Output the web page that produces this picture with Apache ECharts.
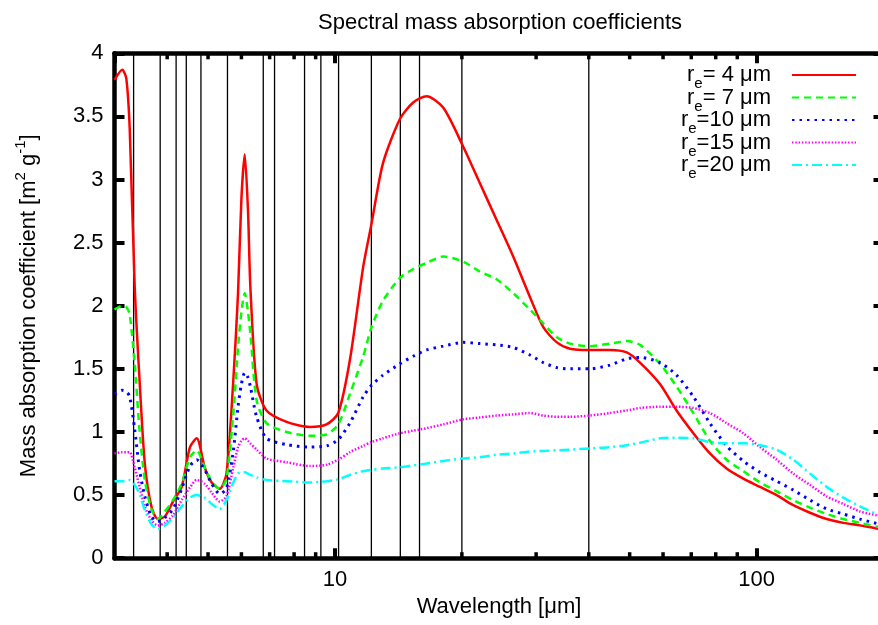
<!DOCTYPE html>
<html><head><meta charset="utf-8">
<script src="https://cdn.jsdelivr.net/npm/echarts@6/dist/echarts.min.js"></script>
<style>html,body{margin:0;padding:0;background:#fff}#c{width:878px;height:625px}</style>
</head><body><div id="c"></div>
<script>
// Wavelength grid [µm]
const wavelength = [3.0, 3.13, 3.2, 3.26, 3.35, 3.44, 3.54, 3.67, 3.8, 3.95, 4.13, 4.33, 4.53, 4.7, 4.91, 5.1, 5.33, 5.53, 5.74, 5.89, 6.0, 6.11, 6.22, 6.3, 6.52, 6.88, 7.68, 8.72, 9.55, 10.18, 10.85, 11.67, 12.21, 13.0, 14.26, 15.33, 16.5, 18.06, 20.15, 22.07, 24.18, 26.47, 29.0, 31.2, 33.6, 36.1, 40.2, 44.9, 49.2, 52.9, 59.0, 64.6, 70.8, 77.5, 84.9, 93.0, 101.9, 111.6, 122.2, 133.9, 146.6, 160.6, 175.9, 192.7, 200];
// Mass absorption coefficients [m2 g-1]
const re4 = [3.79, 3.87, 3.80, 3.40, 2.15, 1.41, 0.75, 0.41, 0.31, 0.33, 0.45, 0.565, 0.88, 0.95, 0.72, 0.60, 0.55, 0.67, 1.41, 2.1, 2.85, 3.2, 2.75, 2.15, 1.38, 1.17, 1.08, 1.04, 1.06, 1.15, 1.57, 2.31, 2.65, 3.13, 3.48, 3.61, 3.66, 3.57, 3.26, 2.97, 2.68, 2.39, 2.07, 1.83, 1.71, 1.66, 1.65, 1.65, 1.63, 1.55, 1.38, 1.17, 0.99, 0.83, 0.71, 0.63, 0.565, 0.50, 0.42, 0.36, 0.31, 0.28, 0.26, 0.235, 0.23];
const re7 = [1.97, 2.0, 1.99, 1.93, 1.54, 1.01, 0.62, 0.39, 0.31, 0.37, 0.46, 0.59, 0.80, 0.855, 0.72, 0.61, 0.55, 0.63, 1.15, 1.67, 1.95, 2.10, 1.95, 1.78, 1.25, 1.07, 1.0, 0.97, 0.98, 1.06, 1.30, 1.60, 1.83, 2.04, 2.22, 2.29, 2.34, 2.39, 2.35, 2.27, 2.21, 2.10, 1.97, 1.86, 1.75, 1.70, 1.68, 1.70, 1.72, 1.69, 1.54, 1.36, 1.15, 0.93, 0.78, 0.69, 0.60, 0.53, 0.46, 0.40, 0.35, 0.31, 0.28, 0.25, 0.245];
const re10 = [1.30, 1.33, 1.32, 1.28, 1.02, 0.70, 0.49, 0.33, 0.29, 0.32, 0.39, 0.55, 0.73, 0.78, 0.70, 0.59, 0.51, 0.55, 0.85, 1.2, 1.38, 1.47, 1.43, 1.36, 1.12, 0.95, 0.90, 0.88, 0.89, 0.94, 1.07, 1.28, 1.37, 1.45, 1.54, 1.60, 1.65, 1.68, 1.71, 1.70, 1.69, 1.67, 1.61, 1.55, 1.51, 1.50, 1.50, 1.53, 1.58, 1.59, 1.55, 1.45, 1.28, 1.07, 0.89, 0.77, 0.68, 0.61, 0.54, 0.46, 0.39, 0.35, 0.31, 0.275, 0.265];
const re15 = [0.83, 0.84, 0.84, 0.84, 0.72, 0.565, 0.41, 0.30, 0.26, 0.28, 0.34, 0.46, 0.56, 0.62, 0.59, 0.52, 0.45, 0.49, 0.72, 0.88, 0.93, 0.95, 0.93, 0.91, 0.86, 0.79, 0.76, 0.73, 0.74, 0.78, 0.84, 0.89, 0.92, 0.95, 0.99, 1.01, 1.03, 1.06, 1.10, 1.115, 1.13, 1.14, 1.15, 1.13, 1.12, 1.12, 1.13, 1.15, 1.17, 1.19, 1.20, 1.20, 1.19, 1.15, 1.07, 0.99, 0.88, 0.78, 0.67, 0.58, 0.49, 0.43, 0.37, 0.34, 0.33];
const re20 = [0.61, 0.61, 0.615, 0.62, 0.58, 0.51, 0.38, 0.27, 0.23, 0.26, 0.32, 0.41, 0.48, 0.50, 0.48, 0.43, 0.39, 0.46, 0.60, 0.67, 0.68, 0.68, 0.67, 0.66, 0.64, 0.62, 0.61, 0.60, 0.61, 0.625, 0.66, 0.69, 0.70, 0.71, 0.72, 0.735, 0.75, 0.77, 0.79, 0.80, 0.82, 0.83, 0.845, 0.85, 0.855, 0.86, 0.87, 0.88, 0.895, 0.915, 0.95, 0.955, 0.95, 0.92, 0.91, 0.91, 0.895, 0.86, 0.78, 0.67, 0.565, 0.48, 0.41, 0.35, 0.33];
// Band boundaries (vertical lines) [µm]
const bandEdges = [3.33, 3.85, 4.20, 4.44, 4.81, 5.56, 6.76, 7.19, 8.47, 9.26, 10.2, 12.2, 14.29, 15.87, 20, 40];
// Minor tick positions on the log axis
const minorTicks = [4, 5, 6, 7, 8, 9, 20, 30, 40, 50, 60, 70, 80, 90];
const radiusLabels = [' 4', ' 7', '10', '15', '20'];
const seriesValues = [re4, re7, re10, re15, re20];

const FONT = '"Liberation Sans", Arial, Helvetica, sans-serif';
const colors = ['#ff0000', '#00ff00', '#0000ff', '#ff00ff', '#00ffff'];
const dashes = ['solid', [7, 5], [2.5, 5], [1.5, 1.8], [10, 4, 2, 4]];
const widths = [2.5, 2.5, 3, 2.5, 2.5];
const names = radiusLabels.map(r => 're=' + r + ' μm');

const chart = echarts.init(document.getElementById('c'), null, {renderer: 'canvas'});

const lineSeries = seriesValues.map((vals, k) => ({
  type: 'line', name: names[k],
  data: wavelength.map((w, i) => [w, vals[i]]),
  showSymbol: false, symbol: 'none', smooth: 0.25,
  xAxisIndex: 0, yAxisIndex: 0, z: 3 + k * 0.01,
  color: colors[k],
  lineStyle: {color: colors[k], width: widths[k], type: dashes[k]},
  emphasis: {disabled: true}
}));

const bandSeries = {
  type: 'custom', xAxisIndex: 0, yAxisIndex: 0, silent: true, z: 1,
  data: bandEdges.map(v => [v, 0]),
  encode: {x: 0, y: 1},
  renderItem: (params, api) => {
    const b = api.coord([api.value(0), 0]);
    const t = api.coord([api.value(0), 4]);
    return {type: 'line', shape: {x1: b[0], y1: b[1], x2: t[0], y2: t[1]}, style: {stroke: '#000', lineWidth: 1.3}};
  }
};

const minorSeries = {
  type: 'custom', xAxisIndex: 0, yAxisIndex: 0, silent: true, z: 6, clip: false,
  data: minorTicks.map(v => [v, 0]),
  encode: {x: 0, y: 1},
  renderItem: (params, api) => {
    const b = api.coord([api.value(0), 0]);
    const t = api.coord([api.value(0), 4]);
    return {type: 'group', children: [
      {type: 'line', shape: {x1: b[0], y1: b[1], x2: b[0], y2: b[1] - 6}, style: {stroke: '#000', lineWidth: 3.5}},
      {type: 'line', shape: {x1: t[0], y1: t[1], x2: t[0], y2: t[1] + 6}, style: {stroke: '#000', lineWidth: 3.5}}
    ]};
  }
};

const axisLine = {show: true, onZero: false, lineStyle: {color: '#000', width: 4.5}};
const axisTick = {show: true, inside: true, length: 10, lineStyle: {color: '#000', width: 4}};
const labelStyle = {color: '#000', fontSize: 22, fontFamily: FONT};

const option = {
  animation: false,
  backgroundColor: '#ffffff',
  title: {
    text: 'Spectral mass absorption coefficients', left: 313, top: 7,
    textStyle: {color: '#000', fontSize: 22, fontWeight: 'normal', fontFamily: FONT}
  },
  grid: {left: 114.5, width: 769, top: 53.3, bottom: 66.8, containLabel: false, outerBoundsMode: 'none'},
  legend: {
    data: names, orient: 'vertical', right: 16, top: 59, align: 'right',
    itemWidth: 64, itemHeight: 14, itemGap: -5,
    itemStyle: {opacity: 0},
    formatter: name => {
      const k = names.indexOf(name);
      return '{n|r}{s|e}{n|=' + radiusLabels[k] + ' μm}';
    },
    textStyle: {
      color: '#000', fontSize: 22, fontFamily: FONT, padding: [0, 16, 0, 0],
      rich: {
        n: {fontSize: 22, fontFamily: FONT, color: '#000', lineHeight: 33},
        s: {fontSize: 15, fontFamily: FONT, color: '#000', lineHeight: 33, verticalAlign: 'bottom'}
      }
    }
  },
  xAxis: [
    {
      type: 'log', logBase: 10, min: 3, max: 200, position: 'bottom',
      axisLine, axisTick,
      axisLabel: Object.assign({margin: 11, showMinLabel: false, showMaxLabel: false,
        formatter: v => (Math.abs(Math.log10(v) - Math.round(Math.log10(v))) < 1e-6 ? String(Math.round(v)) : '')}, labelStyle),
      splitLine: {show: false},
      name: 'Wavelength [μm]', nameLocation: 'middle', nameGap: 38,
      nameTextStyle: labelStyle
    },
    {
      type: 'log', logBase: 10, min: 3, max: 200, position: 'top',
      axisLine, axisTick, axisLabel: {show: false}, splitLine: {show: false}
    }
  ],
  yAxis: [
    {
      type: 'value', min: 0, max: 4, interval: 0.5, position: 'left',
      axisLine, axisTick,
      axisLabel: Object.assign({margin: 11}, labelStyle),
      splitLine: {show: false},
      name: '{n|Mass absorption coefficient [m}{p|2}{n| g}{p|-1}{n|]}',
      nameLocation: 'middle', nameGap: 71, nameRotate: 90,
      nameTextStyle: {
        color: '#000', fontSize: 22, fontFamily: FONT,
        rich: {
          n: {fontSize: 22, fontFamily: FONT, color: '#000', lineHeight: 30},
          p: {fontSize: 15, fontFamily: FONT, color: '#000', lineHeight: 30, verticalAlign: 'top'}
        }
      }
    },
    {
      type: 'value', min: 0, max: 4, interval: 0.5, position: 'right',
      axisLine, axisTick, axisLabel: {show: false}, splitLine: {show: false}
    }
  ],
  series: [bandSeries].concat(lineSeries, [minorSeries])
};
chart.setOption(option);
</script>
</body></html>
